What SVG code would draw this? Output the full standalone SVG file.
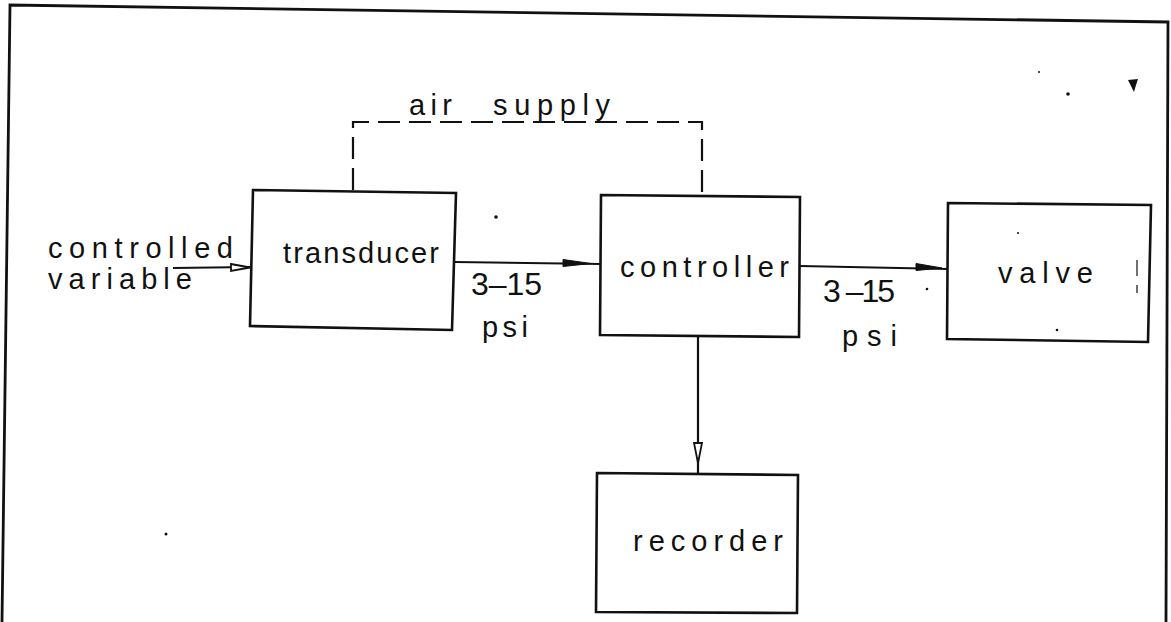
<svg xmlns="http://www.w3.org/2000/svg" width="1171" height="622" viewBox="0 0 1171 622">
<style>
.frame{fill:none;stroke:#111;stroke-width:2.8}
.box{fill:none;stroke:#111;stroke-width:2.6;stroke-linejoin:miter}
.line{fill:none;stroke:#111;stroke-width:2.2}
.dash{fill:none;stroke:#111;stroke-width:2.2;stroke-dasharray:22 9}
.head{fill:#111;stroke:#111;stroke-width:1}
.ohead{fill:#fff;stroke:#111;stroke-width:1.8}
.speck{fill:#111}
text{font-family:"Liberation Sans","DejaVu Sans",Arial,sans-serif;font-size:29px;fill:#111}
.num{font-size:32px}
</style>
<rect width="1171" height="622" fill="#fff"/>
<path class="frame" d="M2,622 L10,5 L1168,22 L1166,622"/>
<g id="connectors">
<path class="dash" d="M353,190 L353,122 L702,122 L702,195"/>
<path class="line" d="M173,268 L252,267"/>
<path class="ohead" d="M231,264 L250,267.5 L231,271 Z"/>
<path class="line" d="M455,262 L601,264"/>
<path class="head" d="M563,259.5 L591,263.5 L563,266.5 Z"/>
<path class="line" d="M800,266 L948,269"/>
<path class="head" d="M916,263.5 L942,268 L916,270.5 Z"/>
<path class="line" d="M698,337 L698,473"/>
<path class="ohead" d="M694,443 L702,443 L698,463 Z"/>
</g>
<g id="input-label">
<text x="48" y="258" textLength="185" lengthAdjust="spacing">controlled</text>
<text x="48" y="289" textLength="144" lengthAdjust="spacing">variable</text>
</g>
<g id="air-supply-label">
<text y="115"><tspan x="409" textLength="43" lengthAdjust="spacing">air</tspan><tspan x="493" textLength="117" lengthAdjust="spacing">supply</tspan></text>
</g>
<g id="transducer">
<path class="box" d="M253,190 L456,193 L452,330 L250,326 Z"/>
<text x="283" y="263" textLength="156" lengthAdjust="spacing">transducer</text>
</g>
<g id="signal-label-1">
<text class="num" x="471" y="295" textLength="71" lengthAdjust="spacing">3–15</text>
<text x="482" y="337" textLength="46" lengthAdjust="spacing">psi</text>
</g>
<g id="controller">
<path class="box" d="M601,195 L800,197 L799,337 L600,335 Z"/>
<text x="620" y="277" textLength="169" lengthAdjust="spacing">controller</text>
</g>
<g id="signal-label-2">
<text class="num" x="823" y="302" textLength="72" lengthAdjust="spacing">3 –15</text>
<text x="842" y="346" textLength="55" lengthAdjust="spacing">psi</text>
</g>
<g id="valve">
<path class="box" d="M948,203 L1151,205 L1148,342 L947,339 Z"/>
<text x="998" y="283" textLength="95" lengthAdjust="spacing">valve</text>
</g>
<g id="recorder">
<path class="box" d="M597,473 L798,475 L797,613 L596,612 Z"/>
<text x="633" y="551" textLength="150" lengthAdjust="spacing">recorder</text>
</g>
<g id="specks">
<path class="speck" d="M1128,80 L1138,79 L1136,85 L1134,92 L1131,86 Z"/>
<circle class="speck" cx="1068" cy="94" r="1.8"/>
<circle class="speck" cx="1039" cy="72" r="1"/>
<circle class="speck" cx="496" cy="217" r="1.8"/>
<circle class="speck" cx="927" cy="289" r="1.3"/>
<circle class="speck" cx="1018" cy="233" r="1"/>
<circle class="speck" cx="1057" cy="330" r="1.3"/>
<circle class="speck" cx="166" cy="534" r="1.5"/>
<path class="line" d="M1137,260 L1137,276 M1137,285 L1137,293" style="stroke-width:1.2"/>
</g>
</svg>
